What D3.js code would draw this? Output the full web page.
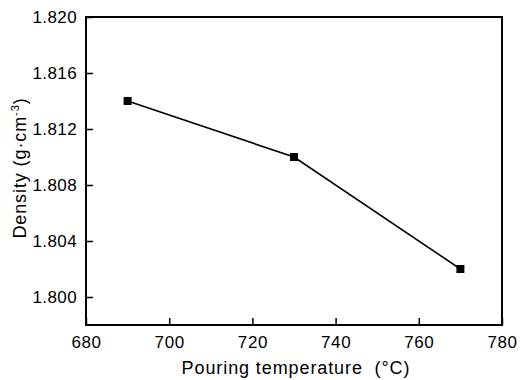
<!DOCTYPE html>
<html>
<head>
<meta charset="utf-8">
<script src="https://cdn.jsdelivr.net/npm/d3@7"></script>
<style>
  html, body { margin: 0; padding: 0; background: #fff; }
  svg text { font-family: "Liberation Sans", Arial, sans-serif; fill: #000; }
</style>
</head>
<body>
<svg id="chart" width="520" height="380"></svg>
<script>
// Pouring temperature (°C) and measured density (g·cm⁻³)
const temperatures = [690, 730, 770];
const densities = [1.814, 1.810, 1.802];
const xTicks = [680, 700, 720, 740, 760, 780];
const yTicks = [1.800, 1.804, 1.808, 1.812, 1.816, 1.820];

const svg = d3.select("#chart");
const margin = { left: 86, right: 18, top: 17, bottom: 55 };
const W = 520, H = 380;

const x = d3.scaleLinear().domain([680, 780]).range([margin.left, W - margin.right]);
const y = d3.scaleLinear().domain([1.798, 1.820]).range([H - margin.bottom, margin.top]);

// frame
svg.append("rect")
  .attr("x", margin.left).attr("y", margin.top)
  .attr("width", W - margin.right - margin.left)
  .attr("height", H - margin.bottom - margin.top)
  .attr("fill", "none").attr("stroke", "#000").attr("stroke-width", 2);

// x axis, ticks pointing inward
const xAxis = svg.append("g")
  .attr("transform", `translate(0,${H - margin.bottom})`)
  .call(d3.axisBottom(x).tickValues(xTicks).tickSizeInner(-7).tickSizeOuter(0).tickPadding(11).tickFormat(d3.format("d")));
xAxis.select(".domain").remove();
xAxis.selectAll("line").attr("stroke", "#000").attr("stroke-width", 1.5);
xAxis.selectAll("text").attr("font-size", 17).style("letter-spacing", "0.6px");

// y axis, ticks pointing inward
const yAxis = svg.append("g")
  .attr("transform", `translate(${margin.left},0)`)
  .call(d3.axisLeft(y).tickValues(yTicks).tickSizeInner(-7).tickSizeOuter(0).tickPadding(9).tickFormat(d3.format(".3f")));
yAxis.select(".domain").remove();
yAxis.selectAll("line").attr("stroke", "#000").attr("stroke-width", 1.5);
yAxis.selectAll("text").attr("font-size", 17).style("letter-spacing", "0.4px");

// data line
const pts = temperatures.map((t, i) => [t, densities[i]]);
svg.append("path")
  .datum(pts)
  .attr("fill", "none").attr("stroke", "#000").attr("stroke-width", 1.6)
  .attr("d", d3.line().x(d => x(d[0])).y(d => y(d[1])));

// square markers
const s = 8;
svg.selectAll("rect.pt").data(pts).enter().append("rect")
  .attr("class", "pt")
  .attr("x", d => x(d[0]) - s / 2).attr("y", d => y(d[1]) - s / 2)
  .attr("width", s).attr("height", s).attr("fill", "#000");

// axis titles
svg.append("text")
  .attr("x", 296).attr("y", 374)
  .attr("text-anchor", "middle").attr("font-size", 18)
  .style("letter-spacing", "0.9px")
  .attr("xml:space", "preserve")
  .text("Pouring temperature  (°C)");

const yt = svg.append("text")
  .attr("transform", "translate(26,168) rotate(-90)")
  .attr("text-anchor", "middle").attr("font-size", 18)
  .style("letter-spacing", "0.9px");
yt.append("tspan").text("Density (g·cm");
yt.append("tspan").attr("font-size", 11).attr("dy", -7).text("-3");
yt.append("tspan").attr("dy", 7).text(")");
</script>
</body>
</html>
